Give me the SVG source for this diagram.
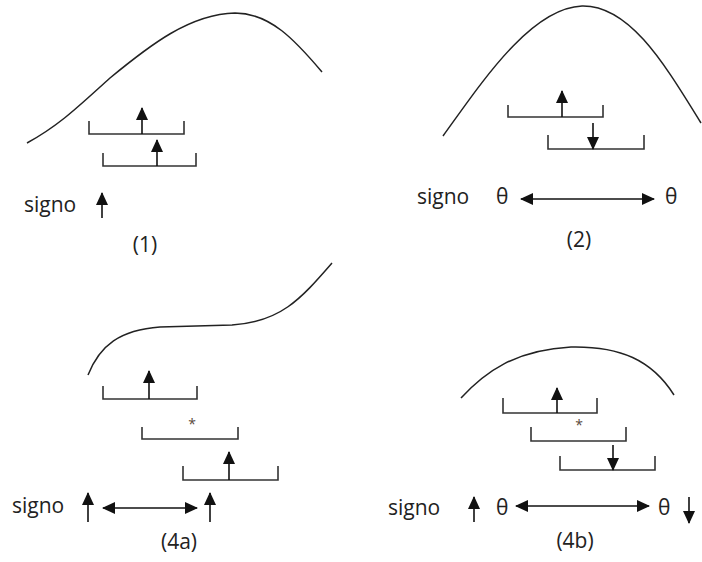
<svg xmlns="http://www.w3.org/2000/svg" width="702" height="562" viewBox="0 0 702 562">
<style>
.curve{fill:none;stroke:#222;stroke-width:1.5}
.br{fill:none;stroke:#333;stroke-width:1.6}
.ar{fill:none;stroke:#111;stroke-width:1.6}
.up{marker-end:url(#head)}
.dbl{marker-start:url(#head);marker-end:url(#head)}
text{font-family:"Open Sans","Noto Sans",sans-serif;font-size:21px;fill:#222}
.ast{font-size:14px;fill:#5a4a3a;text-anchor:middle}
.mid{text-anchor:middle}
</style>
<defs>
<marker id="head" markerUnits="userSpaceOnUse" markerWidth="14" markerHeight="13" refX="12" refY="6" orient="auto-start-reverse" viewBox="0 0 14 13">
<path d="M0,0 L13,6 L0,12 z" fill="#111"/>
</marker>
</defs>
<rect width="702" height="562" fill="#fff"/>

<g id="panel1">
<path class="curve" d="M27,143 C60,125 80,105 110,78 C150,45 190,14 235,13 C270,13 295,40 322,72"/>
<path class="br" d="M89,121 V134 H184 V121"/>
<path class="br" d="M103,153 V166 H196 V153"/>
<text x="24" y="212">signo</text>
<text class="mid" x="145" y="252">(1)</text>
</g>

<g id="panel2">
<path class="curve" d="M443,136 C480,85 530,8 582,6 C630,5 665,65 701,123"/>
<path class="br" d="M508,105 V117 H603 V105"/>
<path class="br" d="M548,135 V149 H644 V135"/>
<text x="417" y="204">signo</text>
<text x="496" y="204">θ</text>
<text x="665" y="204">θ</text>
<text class="mid" x="579" y="247">(2)</text>
</g>

<g id="panel4a">
<path class="curve" d="M88,375 C100,345 120,330 160,327 L232,325 C280,322 300,300 332,263"/>
<path class="br" d="M103,386 V399 H197 V386"/>
<path class="br" d="M142,427 V439 H238 V427"/>
<text class="ast" x="192" y="429">*</text>
<path class="br" d="M183,466 V480 H278 V466"/>
<text x="12" y="513">signo</text>
<text class="mid" x="179" y="549">(4a)</text>
</g>

<g id="panel4b">
<path class="curve" d="M461,398 C485,372 515,350 571,347 C620,346 652,360 674,395"/>
<path class="br" d="M503,398 V413 H597 V398"/>
<path class="br" d="M531,427 V441 H626 V427"/>
<text class="ast" x="579" y="430">*</text>
<path class="br" d="M560,456 V470 H655 V456"/>
<text x="388" y="515">signo</text>
<text x="496" y="515">θ</text>
<text x="658" y="515">θ</text>
<text class="mid" x="575" y="548">(4b)</text>
</g>

<g id="connectors">
<line class="ar up" x1="142" y1="134" x2="142" y2="108"/>
<line class="ar up" x1="157" y1="166" x2="157" y2="140"/>
<line class="ar up" x1="102" y1="218" x2="102" y2="193"/>

<line class="ar up" x1="562" y1="117" x2="562" y2="91"/>
<line class="ar up" x1="593" y1="123" x2="593" y2="149"/>
<line class="ar dbl" x1="521" y1="199" x2="654" y2="199"/>

<line class="ar up" x1="149" y1="399" x2="149" y2="371"/>
<line class="ar up" x1="229" y1="480" x2="229" y2="452"/>
<line class="ar up" x1="88" y1="522" x2="88" y2="493"/>
<line class="ar dbl" x1="103" y1="508" x2="197" y2="508"/>
<line class="ar up" x1="210" y1="522" x2="210" y2="493"/>

<line class="ar up" x1="557" y1="413" x2="557" y2="388"/>
<line class="ar up" x1="613" y1="445" x2="613" y2="470"/>
<line class="ar up" x1="474" y1="522" x2="474" y2="497"/>
<line class="ar dbl" x1="516" y1="506" x2="649" y2="506"/>
<line class="ar up" x1="689" y1="497" x2="689" y2="523"/>
</g>
</svg>
